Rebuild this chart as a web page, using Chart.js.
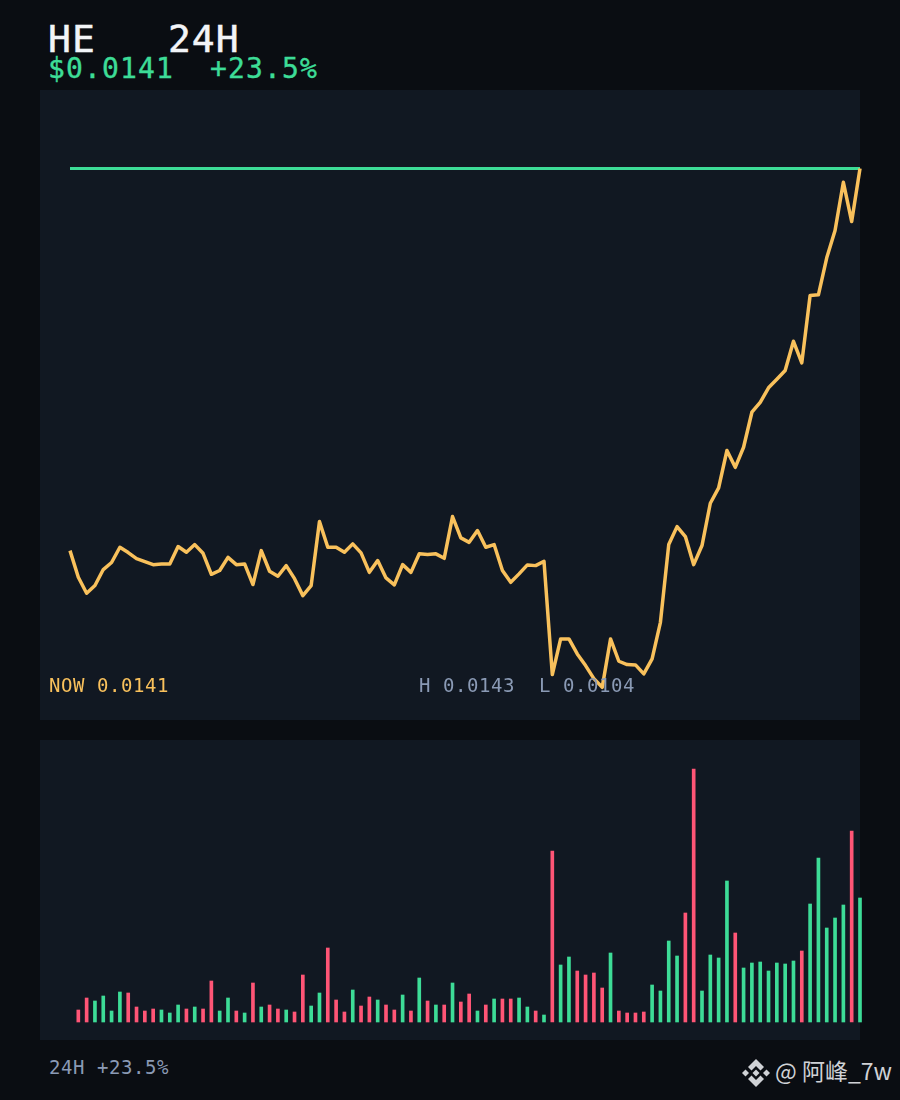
<!DOCTYPE html>
<html>
<head>
<meta charset="utf-8">
<title>HE 24H</title>
<script src="https://cdn.jsdelivr.net/npm/chart.js@4"></script>
<style>
  html, body { margin: 0; padding: 0; background: #0a0d12; }
  #page { position: relative; width: 900px; height: 1100px; overflow: hidden; background: #0a0d12; font-family: "DejaVu Sans Mono", monospace; }
  .panel { position: absolute; left: 40px; width: 820px; background: #111822; }
  canvas { position: absolute; left: 40px; display: block; }
  .txt { position: absolute; white-space: pre; line-height: 1; }
  #titulo { left: 48px; top: 20px; font-size: 38px; letter-spacing: 1.1px; color: #f2f4f8; -webkit-text-stroke: 0.5px #f2f4f8; }
  #preco { left: 48px; top: 55px; font-size: 28px; letter-spacing: 1.15px; color: #3ddc97; -webkit-text-stroke: 0.4px #3ddc97; }
  #agora { left: 49px; top: 676px; font-size: 19px; letter-spacing: 0.56px; color: #f9c15c; }
  #faixa { left: 419px; top: 676px; font-size: 19px; letter-spacing: 0.56px; color: #8a9ab5; }
  #rodape { left: 49px; top: 1057.500px; font-size: 19px; letter-spacing: 0.56px; color: #8a9ab5; }
  #marca { left: 775px; top: 1059px; font-size: 23px; color: #d0d2d6; font-family: "Noto Sans CJK SC", "Noto Sans", sans-serif; }
  #icone { position: absolute; left: 742px; top: 1059px; }
</style>
</head>
<body>
<div id="page">
  <div class="panel" style="top:90px;height:630px"></div>
  <div class="panel" style="top:740px;height:300px"></div>
  <canvas id="graficoPreco" width="824" height="630" style="top:90px"></canvas>
  <canvas id="graficoVolume" width="824" height="300" style="top:740px"></canvas>
  <div class="txt" id="titulo">HE   24H</div>
  <div class="txt" id="preco">$0.0141  +23.5%</div>
  <div class="txt" id="agora">NOW 0.0141</div>
  <div class="txt" id="faixa">H 0.0143  L 0.0104</div>
  <div class="txt" id="rodape">24H +23.5%</div>
  <svg id="icone" width="28" height="28" viewBox="0 0 28 28" fill="#d0d2d6">
    <path d="M14 0L22 8L18.500 11.500L14 7L9.500 11.500L6 8z"/>
    <path d="M14 28L22 20L18.500 16.500L14 21L9.500 16.500L6 20z"/>
    <path d="M3.500 10.500L7 14L3.500 17.500L0 14z"/>
    <path d="M24.500 10.500L28 14L24.500 17.500L21 14z"/>
    <path d="M14 10.500L17.500 14L14 17.500L10.500 14z"/>
  </svg>
  <div class="txt" id="marca">@ 阿峰_7w</div>
</div>
<script>
// Preco, um ponto por periodo
const precos = [
  0.011375, 0.011185, 0.011071, 0.011126, 0.011240, 0.011290, 0.011399, 0.011361,
  0.011318, 0.011297, 0.011275, 0.011279, 0.011279, 0.011404, 0.011363, 0.011418,
  0.011356, 0.011206, 0.011233, 0.011327, 0.011275, 0.011280, 0.011133, 0.011375,
  0.011228, 0.011192, 0.011268, 0.011175, 0.011054, 0.011126, 0.011582, 0.011399,
  0.011399, 0.011363, 0.011423, 0.011359, 0.011220, 0.011304, 0.011180, 0.011131,
  0.011275, 0.011220, 0.011352, 0.011347, 0.011352, 0.011320, 0.011618, 0.011466,
  0.011434, 0.011518, 0.011399, 0.011418, 0.011233, 0.011149, 0.011209, 0.011273,
  0.011268, 0.011299, 0.010491, 0.010745, 0.010745, 0.010638, 0.010555, 0.010462,
  0.010400, 0.010745, 0.010586, 0.010562, 0.010560, 0.010496, 0.010603, 0.010864,
  0.011418, 0.011546, 0.011475, 0.011275, 0.011411, 0.011713, 0.011822, 0.012089,
  0.011969, 0.012112, 0.012362, 0.012433, 0.012536, 0.012597, 0.012659, 0.012868,
  0.012714, 0.013194, 0.013199, 0.013463, 0.013658, 0.014002, 0.013722, 0.014100
];

// Volume em unidades relativas; o primeiro periodo nao tem barra
const volumes = [
  null, 12, 24, 21, 26, 11, 30, 29, 15, 11, 13, 12, 9, 17, 13, 15,
  13, 41, 11, 24, 11, 9, 39, 15, 17, 13, 12, 10, 47, 16, 29, 74,
  22, 10, 32, 16, 25, 22, 17, 12, 27, 11, 44, 21, 17, 17, 39, 20,
  28, 11, 17, 23, 23, 23, 24, 15, 11, 7, 171, 57, 65, 51,
  47, 49, 34, 69, 11, 9, 9, 10, 37, 31, 81, 66, 109, 253,
  31, 67, 64, 141, 89, 54, 59, 60, 51, 59, 58, 61, 71, 118,
  164, 94, 104, 117, 191, 124
];

// 1 = alta (verde), 0 = baixa (rosa)
const direcao = [
  0, 0, 0, 1, 1, 1, 1, 0, 0, 0, 0, 1, 1, 1, 0, 1,
  0, 0, 1, 1, 0, 1, 0, 1, 0, 0, 1, 0, 0, 1, 1, 0,
  0, 0, 1, 0, 0, 1, 0, 0, 1, 0, 1, 0, 1, 0, 1, 0,
  0, 1, 0, 1, 0, 0, 1, 1, 0, 1, 0, 1, 1, 0,
  0, 0, 0, 1, 0, 0, 0, 0, 1, 1, 1, 1, 0, 0,
  1, 1, 1, 1, 0, 1, 1, 1, 1, 1, 1, 1, 0, 1,
  1, 1, 1, 1, 0, 1
];

const precoAtual = 0.0141;
const rotulos = precos.map((_, i) => i);
const VERDE = '#3ddc97';
const ROSA = '#ff5576';
const LARANJA = '#f9c15c';

Chart.defaults.animation = false;
Chart.defaults.responsive = false;
Chart.defaults.devicePixelRatio = 1;
Chart.defaults.plugins.legend.display = false;
Chart.defaults.plugins.tooltip.enabled = false;

new Chart(document.getElementById('graficoPreco'), {
  type: 'line',
  data: {
    labels: rotulos,
    datasets: [
      {
        data: precos,
        borderColor: LARANJA,
        borderWidth: 3.5,
        pointRadius: 0,
        tension: 0,
        borderJoinStyle: 'round',
        clip: false,
        order: 1
      },
      {
        data: precos.map(() => precoAtual),
        borderColor: VERDE,
        borderWidth: 3,
        pointRadius: 0,
        clip: false,
        order: 2
      }
    ]
  },
  options: {
    layout: { padding: { left: 30, right: 4, top: 0, bottom: 0 } },
    scales: {
      x: { display: false },
      y: { display: false, min: 0.010167, max: 0.014660 }
    }
  }
});

new Chart(document.getElementById('graficoVolume'), {
  type: 'bar',
  data: {
    labels: rotulos,
    datasets: [{
      data: volumes,
      backgroundColor: direcao.map(d => (d ? VERDE : ROSA)),
      barThickness: 3,
      clip: false
    }]
  },
  options: {
    layout: { padding: { left: 30, right: 4, top: 0, bottom: 18 } },
    scales: {
      x: { display: false, offset: false },
      y: { display: false, min: 0, max: 282 }
    }
  }
});
</script>
</body>
</html>
